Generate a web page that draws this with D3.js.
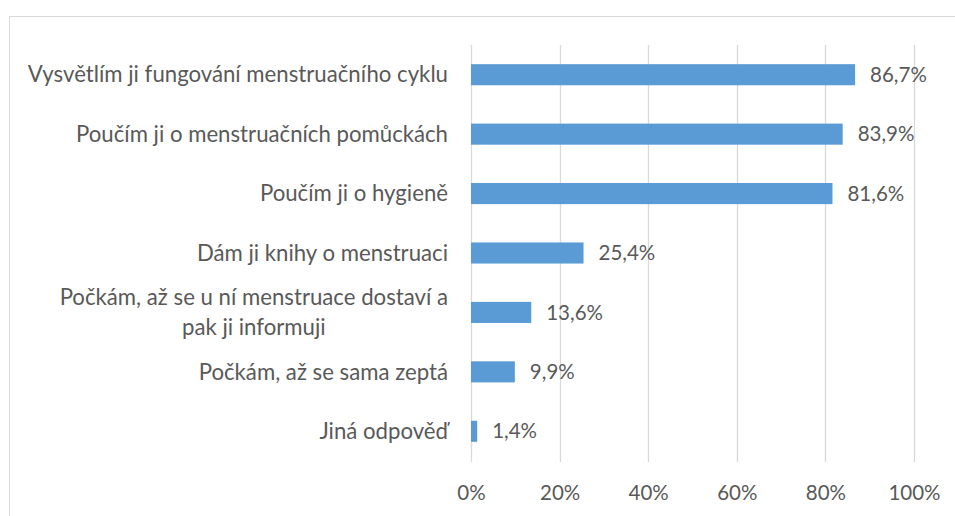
<!DOCTYPE html>
<html><head><meta charset="utf-8">
<script src="https://cdn.jsdelivr.net/npm/d3@7"></script>
<style>body{margin:0;background:#fff;} svg{display:block;font-family:Lato,"Open Sans",sans-serif;}</style>
</head><body>
<svg id="c" width="955" height="516"></svg>
<script>
const categories = [
  ["Vysvětlím ji fungování menstruačního cyklu"],
  ["Poučím ji o menstruačních pomůckách"],
  ["Poučím ji o hygieně"],
  ["Dám ji knihy o menstruaci"],
  ["Počkám, až se u ní menstruace dostaví a", "pak ji informuji"],
  ["Počkám, až se sama zeptá"],
  ["Jiná odpověď"]
];
const values = [86.7, 83.9, 81.6, 25.4, 13.6, 9.9, 1.4];
const valueLabels = ["86,7%", "83,9%", "81,6%", "25,4%", "13,6%", "9,9%", "1,4%"];
const ticks = [0, 20, 40, 60, 80, 100];

const svg = d3.select("#c");
const textColor = "#595959";
svg.append("rect").attr("x", 9.5).attr("y", 16.5).attr("width", 980).attr("height", 540)
  .attr("fill", "#fff").attr("stroke", "#d9d9d9").attr("stroke-width", 1);

const x = d3.scaleLinear().domain([0, 100]).range([471, 914]);
const y = d3.scaleBand().domain(d3.range(categories.length)).range([45, 461]).paddingInner(0.645).paddingOuter(0.3225);

// gridlines
svg.append("g").selectAll("line").data(ticks).join("line")
  .attr("x1", d => Math.round(x(d)) + 0.5).attr("x2", d => Math.round(x(d)) + 0.5)
  .attr("y1", 45).attr("y2", 462)
  .attr("stroke", "#d9d9d9").attr("stroke-width", 1.3);

// axis tick labels
const ax = d3.axisBottom(x).tickValues(ticks).tickFormat(d => d + "%").tickSize(0).tickPadding(0);
const axg = svg.append("g").attr("transform", "translate(0,485)").call(ax);
axg.select(".domain").remove();
axg.selectAll("text").attr("fill", textColor).attr("font-size", 20.5).attr("font-family", "Lato,'Open Sans',sans-serif");

// bars
svg.append("g").selectAll("rect").data(values).join("rect")
  .attr("x", x(0)).attr("y", (d, i) => y(i))
  .attr("width", d => x(d) - x(0)).attr("height", y.bandwidth())
  .attr("fill", "#5b9bd5");

// value labels
svg.append("g").selectAll("text").data(values).join("text")
  .attr("x", d => x(d) + 15).attr("y", (d, i) => y(i) + y.bandwidth() / 2)
  .attr("dy", "0.35em").attr("font-size", 20.5).attr("fill", textColor)
  .text((d, i) => valueLabels[i]);

// category labels
const cat = svg.append("g").selectAll("text").data(categories).join("text")
  .attr("font-size", 22.2).attr("fill", textColor);
cat.each(function(lines, i) {
  const t = d3.select(this);
  const cy = y(i) + y.bandwidth() / 2;
  if (lines.length === 1) {
    t.attr("x", 448).attr("y", cy).attr("dy", "0.35em").attr("text-anchor", "end").text(lines[0]);
  } else {
    t.attr("text-anchor", "end");
    lines.forEach((ln, k) => {
      t.append("tspan").attr("x", 448).attr("y", cy + (k - (lines.length - 1) / 2) * 30).attr("dy", "0.35em").text(ln);
    });
    const first = t.select("tspan").node();
    const w = first.getComputedTextLength();
    t.selectAll("tspan").filter((d, k) => k > 0).attr("text-anchor", "middle").attr("x", 448 - w / 2);
  }
});
</script>
</body></html>
